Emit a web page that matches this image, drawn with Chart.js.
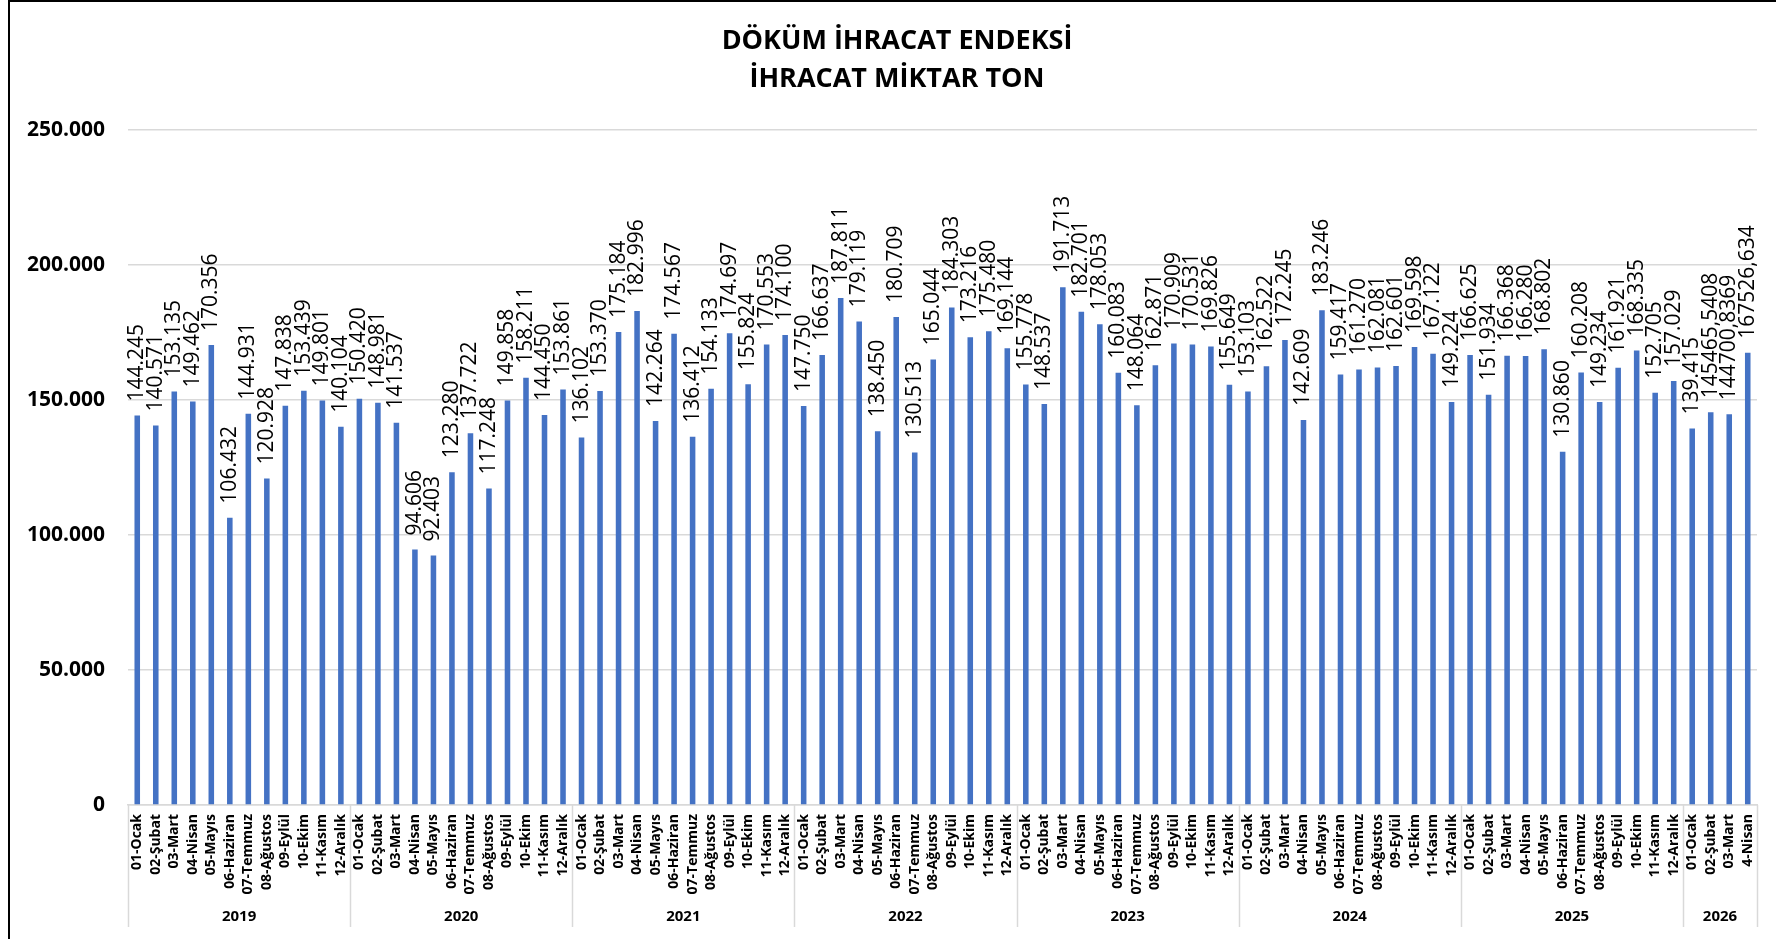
<!DOCTYPE html>
<html lang="tr">
<head>
<meta charset="utf-8">
<title>Döküm İhracat Endeksi</title>
<script src="https://cdn.jsdelivr.net/npm/chart.js@4.4.1/dist/chart.umd.min.js"></script>
<style>
  html, body { margin: 0; padding: 0; background: #fff; }
  #wrap { position: relative; width: 1776px; height: 939px; overflow: hidden; }
  #frame { position: absolute; left: 8px; top: 0; width: 1800px; height: 960px;
           border-left: 2px solid #000; border-top: 2px solid #000; pointer-events: none; }
</style>
</head>
<body>
<div id="wrap">
  <canvas id="chart" width="1776" height="939"></canvas>
  <div id="frame"></div>
</div>
<script>
// === aylık döküm ihracatı (ton) ===

const titleLines = ['DÖKÜM İHRACAT ENDEKSİ', 'İHRACAT MİKTAR TON'];
const years = ['2019', '2020', '2021', '2022', '2023', '2024', '2025', '2026'];
const months = ['01-Ocak', '02-Şubat', '03-Mart', '04-Nisan', '05-Mayıs', '06-Haziran',
  '07-Temmuz', '08-Ağustos', '09-Eylül', '10-Ekim', '11-Kasım', '12-Aralık'];
const months2026 = ['01-Ocak', '02-Şubat', '03-Mart', '4-Nisan'];

const ton2019 = [144245, 140571, 153135, 149462, 170356, 106432, 144931, 120928, 147838, 153439, 149801, 140104];
const ton2020 = [150420, 148981, 141537, 94606, 92403, 123280, 137722, 117248, 149858, 158211, 144450, 153861];
const ton2021 = [136102, 153370, 175184, 182996, 142264, 174567, 136412, 154133, 174697, 155824, 170553, 174100];
const ton2022 = [147750, 166637, 187811, 179119, 138450, 180709, 130513, 165044, 184303, 173216, 175480, 169144];
const ton2023 = [155778, 148537, 191713, 182701, 178053, 160083, 148064, 162871, 170909, 170531, 169826, 155649];
const ton2024 = [153103, 162522, 172245, 142609, 183246, 159417, 161270, 162081, 162601, 169598, 167122, 149224];
const ton2025 = [166625, 151934, 166368, 166280, 168802, 130860, 160208, 149234, 161921, 168335, 152705, 157029];
const ton2026 = [139415, 145465.5408, 144700.8369, 167526.634];

const yTicks = [0, 50000, 100000, 150000, 200000, 250000];

const perYear = [ton2019, ton2020, ton2021, ton2022, ton2023, ton2024, ton2025, ton2026];
const values = perYear.flat();
const labels = perYear.map((arr, i) => i === perYear.length - 1 ? months2026 : months).flat();

const FONT = '"Open Sans", "DejaVu Sans", sans-serif';

// 144245 -> "144.245", kesirli değerler virgülle yazılır
function fmt(v) {
  if (Number.isInteger(v)) return String(v).replace(/\B(?=(\d{3})+(?!\d))/g, '.');
  return String(v).replace('.', ',');
}

// iki satırlık başlık
const chartTitle = {
  id: 'chartTitle',
  afterDraw(chart) {
    const ctx = chart.ctx;
    ctx.save();
    ctx.font = 'bold 27px ' + FONT;
    ctx.fillStyle = '#000';
    ctx.textAlign = 'center';
    ctx.textBaseline = 'middle';
    titleLines.forEach((t, i) => ctx.fillText(t, 897, 41 + i * 38));
    ctx.restore();
  },
};

// çubuk üstü değer etiketleri (dikey)
const barLabels = {
  id: 'barLabels',
  afterDatasetsDraw(chart) {
    const ctx = chart.ctx;
    const meta = chart.getDatasetMeta(0);
    ctx.save();
    ctx.font = '500 21px ' + FONT;
    ctx.fillStyle = '#000';
    ctx.textAlign = 'left';
    ctx.textBaseline = 'middle';
    meta.data.forEach((bar, i) => {
      ctx.save();
      ctx.translate(bar.x, bar.y - 14);
      ctx.rotate(-Math.PI / 2);
      ctx.fillText(fmt(values[i]), 0, 0);
      ctx.restore();
    });
    ctx.restore();
  },
};

// yıl grupları: ayırıcı çizgiler ve yıl etiketleri
const yearGroups = {
  id: 'yearGroups',
  afterDraw(chart) {
    const ctx = chart.ctx;
    const x = chart.scales.x;
    const top = chart.chartArea.bottom;
    const bottom = 927;
    const edges = [x.left];
    let idx = 0;
    perYear.forEach(arr => {
      idx += arr.length;
      if (idx < values.length) {
        edges.push((x.getPixelForTick(idx - 1) + x.getPixelForTick(idx)) / 2);
      }
    });
    edges.push(x.right);

    ctx.save();
    ctx.strokeStyle = '#d9d9d9';
    ctx.lineWidth = 1.5;
    edges.forEach(e => {
      ctx.beginPath();
      ctx.moveTo(Math.round(e) + 0.5, top);
      ctx.lineTo(Math.round(e) + 0.5, bottom);
      ctx.stroke();
    });

    ctx.font = 'bold 15px ' + FONT;
    ctx.fillStyle = '#000';
    ctx.textAlign = 'center';
    ctx.textBaseline = 'middle';
    years.forEach((y, i) => {
      ctx.fillText(y, (edges[i] + edges[i + 1]) / 2, 917);
    });
    ctx.restore();
  },
};

new Chart(document.getElementById('chart'), {
  type: 'bar',
  data: {
    labels: labels,
    datasets: [{
      label: 'İhracat Miktar Ton',
      data: values,
      backgroundColor: '#4472C4',
      borderWidth: 0,
      barPercentage: 0.3,
      categoryPercentage: 1.0,
    }],
  },
  options: {
    responsive: false,
    animation: false,
    devicePixelRatio: 1,
    layout: { padding: { left: 0, right: 19, top: 130, bottom: 0 } },
    plugins: {
      legend: { display: false },
      tooltip: { enabled: false },
      title: { display: false },
    },
    scales: {
      x: {
        grid: { display: false, drawTicks: false },
        border: { display: true, color: '#d9d9d9', width: 1.5 },
        ticks: {
          autoSkip: false,
          minRotation: 90,
          maxRotation: 90,
          padding: 9,
          color: '#000',
          font: { family: FONT, size: 14, weight: 'bold' },
        },
        afterFit(scale) { scale.height = 134; },
      },
      y: {
        min: 0,
        max: 250000,
        afterBuildTicks(scale) { scale.ticks = yTicks.map(v => ({ value: v })); },
        grid: { color: '#d9d9d9', lineWidth: 1.5, drawTicks: false },
        border: { display: false },
        ticks: {
          padding: 23,
          color: '#000',
          font: { family: FONT, size: 21, weight: 'bold' },
          callback: v => fmt(v),
        },
        afterFit(scale) { scale.width = 128; },
      },
    },
  },
  plugins: [barLabels, yearGroups, chartTitle],
});
</script>
</body>
</html>
